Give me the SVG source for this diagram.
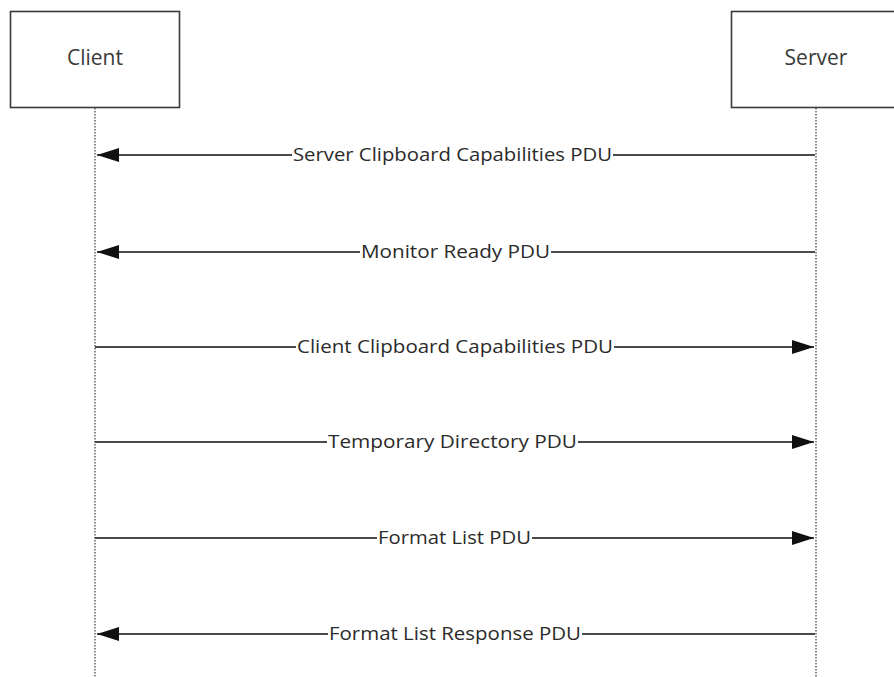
<svg xmlns="http://www.w3.org/2000/svg" width="894" height="677" viewBox="0 0 894 677">
<style>
.box{fill:#fff;stroke:#3a3a3a;stroke-width:1.6}
.life{stroke:#555;stroke-width:1.4;stroke-dasharray:1.5,1.5;fill:none}
.msg{stroke:#4a4a4a;stroke-width:2;fill:none}
.bg{fill:#fff}
.lbl{font-family:"Open Sans","Noto Sans",sans-serif;font-size:17.5px;fill:#2b2b2b;text-anchor:middle}
.title{font-family:"Open Sans","Noto Sans",sans-serif;font-size:21px;fill:#3a3a3a;text-anchor:middle}
.head{fill:#111}
</style>
<defs>
<marker id="arr" viewBox="0 0 22 14" refX="22" refY="7" markerWidth="22" markerHeight="14" markerUnits="userSpaceOnUse" orient="auto">
<path d="M0,0 L22,7 L0,14 Z" class="head"/>
</marker>
</defs>
<rect width="894" height="677" fill="#fff"/>
<g id="client">
<rect class="box" x="10.5" y="11.5" width="169" height="96"/>
<text class="title" x="95" y="65">Client</text>
<line class="life" x1="95" y1="108" x2="95" y2="677"/>
</g>
<g id="server">
<rect class="box" x="731.5" y="11.5" width="170" height="96"/>
<text class="title" x="816" y="65">Server</text>
<line class="life" x1="816" y1="108" x2="816" y2="677"/>
</g>
<g id="connectors">
<line class="msg" x1="815" y1="155" x2="97" y2="155" marker-end="url(#arr)"/>
<rect class="bg" x="292" y="145" width="321" height="20"/>
<text class="lbl" x="452.5" y="161" textLength="319" lengthAdjust="spacingAndGlyphs">Server Clipboard Capabilities PDU</text>

<line class="msg" x1="815" y1="252" x2="97" y2="252" marker-end="url(#arr)"/>
<rect class="bg" x="360" y="242" width="191" height="20"/>
<text class="lbl" x="455.5" y="258" textLength="189" lengthAdjust="spacingAndGlyphs">Monitor Ready PDU</text>

<line class="msg" x1="95" y1="347" x2="814" y2="347" marker-end="url(#arr)"/>
<rect class="bg" x="296" y="337" width="318" height="20"/>
<text class="lbl" x="455" y="353" textLength="316" lengthAdjust="spacingAndGlyphs">Client Clipboard Capabilities PDU</text>

<line class="msg" x1="95" y1="442" x2="814" y2="442" marker-end="url(#arr)"/>
<rect class="bg" x="327" y="432" width="251" height="20"/>
<text class="lbl" x="452.5" y="448" textLength="249" lengthAdjust="spacingAndGlyphs">Temporary Directory PDU</text>

<line class="msg" x1="95" y1="538" x2="814" y2="538" marker-end="url(#arr)"/>
<rect class="bg" x="377" y="528" width="155" height="20"/>
<text class="lbl" x="454.5" y="544" textLength="153" lengthAdjust="spacingAndGlyphs">Format List PDU</text>

<line class="msg" x1="815" y1="634" x2="97" y2="634" marker-end="url(#arr)"/>
<rect class="bg" x="328" y="624" width="254" height="20"/>
<text class="lbl" x="455" y="640" textLength="252" lengthAdjust="spacingAndGlyphs">Format List Response PDU</text>
</g>
</svg>
